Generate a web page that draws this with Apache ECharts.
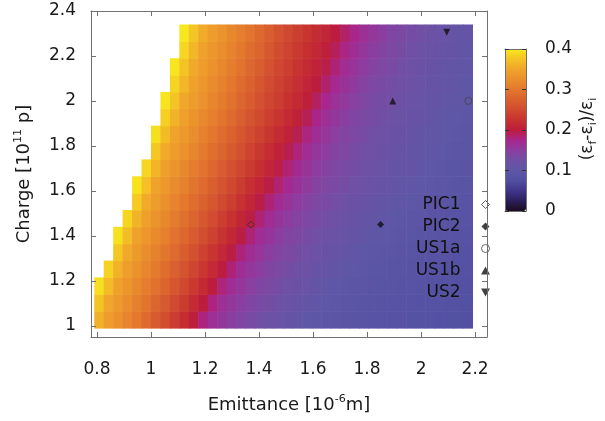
<!DOCTYPE html>
<html>
<head>
<meta charset="utf-8">
<script src="https://cdn.jsdelivr.net/npm/echarts@6.0.0/dist/echarts.min.js"></script>
<style>html,body{margin:0;padding:0;background:#fff;}#c{width:605px;height:421px;}</style>
</head>
<body>
<div id="c"></div>
<script>
// ---- data ----
const emittance = [0.8075,0.8425,0.8775,0.9125,0.9475,0.9825,1.0175,1.0525,1.0875,1.1225,
  1.1575,1.1925,1.2275,1.2625,1.2975,1.3325,1.3675,1.4025,1.4375,1.4725,
  1.5075,1.5425,1.5775,1.6125,1.6475,1.6825,1.7175,1.7525,1.7875,1.8225,
  1.8575,1.8925,1.9275,1.9625,1.9975,2.0325,2.0675,2.1025,2.1375,2.1725];
const charge = [1.0275,1.1025,1.1775,1.2525,1.3275,1.4025,1.4775,1.5525,1.6275,
  1.7025,1.7775,1.8525,1.9275,2.0025,2.0775,2.1525,2.2275,2.3025];
const _ = null;
const growth = [
 [.359,.341,.328,.314,.301,.285,.269,.253,.236,.219,.201,.180,.166,.157,.148,.140,.134,.128,.122,.117,.111,.106,.100,.098,.097,.095,.093,.091,.090,.088,.087,.086,.085,.083,.082,.081,.080,.079,.078,.077],
 [.375,.350,.337,.324,.310,.297,.281,.266,.250,.234,.217,.200,.180,.166,.157,.148,.140,.134,.129,.123,.118,.113,.108,.103,.099,.097,.096,.094,.092,.090,.089,.088,.087,.085,.084,.082,.081,.080,.079,.078],
 [.393,.368,.346,.333,.320,.307,.293,.278,.263,.248,.232,.216,.200,.181,.167,.158,.149,.140,.135,.129,.124,.119,.114,.109,.105,.100,.098,.096,.095,.093,.091,.090,.088,.087,.086,.084,.083,.082,.080,.079],
 [_,.385,.360,.342,.329,.316,.303,.289,.274,.260,.245,.230,.215,.199,.182,.167,.158,.150,.141,.135,.130,.125,.120,.115,.111,.107,.102,.099,.097,.096,.094,.092,.090,.089,.087,.086,.085,.083,.082,.081],
 [_,_,.378,.353,.338,.325,.312,.299,.285,.271,.257,.243,.228,.213,.198,.182,.168,.159,.150,.142,.136,.131,.126,.121,.116,.112,.108,.104,.100,.098,.096,.095,.093,.091,.089,.088,.087,.085,.084,.083],
 [_,_,.395,.370,.347,.334,.322,.309,.296,.282,.268,.254,.241,.226,.212,.198,.183,.168,.160,.151,.142,.136,.131,.127,.122,.117,.114,.110,.106,.102,.099,.097,.095,.094,.092,.090,.089,.087,.086,.085],
 [_,_,_,.387,.362,.343,.331,.318,.305,.292,.279,.265,.252,.239,.225,.211,.198,.183,.169,.160,.152,.143,.137,.132,.128,.123,.118,.115,.111,.107,.103,.100,.098,.096,.095,.093,.091,.089,.088,.087],
 [_,_,_,_,.380,.355,.340,.327,.314,.302,.289,.276,.263,.250,.237,.224,.211,.197,.183,.170,.161,.152,.143,.137,.133,.128,.124,.119,.116,.112,.109,.105,.101,.099,.097,.095,.093,.092,.090,.088],
 [_,_,_,_,.397,.372,.348,.336,.323,.311,.298,.285,.273,.260,.248,.235,.222,.210,.197,.184,.171,.162,.153,.144,.138,.133,.129,.124,.120,.117,.113,.110,.106,.103,.100,.098,.096,.094,.092,.091],
 [_,_,_,_,_,.388,.363,.344,.332,.319,.307,.295,.282,.270,.258,.245,.233,.221,.209,.196,.183,.170,.161,.152,.143,.137,.133,.129,.124,.120,.117,.113,.110,.107,.103,.100,.098,.096,.094,.093],
 [_,_,_,_,_,_,.378,.354,.340,.328,.316,.303,.291,.279,.267,.255,.243,.231,.219,.207,.195,.181,.168,.159,.151,.142,.137,.132,.128,.123,.119,.116,.113,.109,.106,.103,.100,.098,.096,.094],
 [_,_,_,_,_,_,.393,.369,.348,.336,.324,.312,.300,.288,.276,.264,.252,.241,.229,.218,.206,.193,.179,.167,.158,.149,.141,.136,.132,.127,.123,.119,.116,.112,.109,.105,.102,.099,.098,.096],
 [_,_,_,_,_,_,_,.384,.361,.344,.332,.320,.309,.297,.285,.273,.261,.250,.238,.227,.216,.205,.192,.177,.165,.157,.148,.140,.135,.131,.126,.122,.118,.115,.112,.108,.105,.102,.099,.097],
 [_,_,_,_,_,_,_,.397,.375,.352,.340,.328,.316,.305,.293,.281,.270,.258,.246,.236,.225,.214,.203,.189,.174,.164,.155,.146,.139,.134,.130,.126,.121,.118,.114,.111,.108,.104,.101,.099],
 [_,_,_,_,_,_,_,_,.387,.364,.346,.334,.323,.311,.300,.288,.276,.264,.252,.241,.231,.220,.210,.199,.185,.171,.162,.153,.145,.138,.133,.129,.125,.120,.117,.113,.110,.107,.104,.100],
 [_,_,_,_,_,_,_,_,.398,.376,.353,.340,.329,.318,.307,.295,.283,.271,.259,.247,.237,.226,.216,.206,.195,.182,.169,.160,.152,.143,.137,.133,.128,.123,.119,.116,.113,.109,.106,.103],
 [_,_,_,_,_,_,_,_,_,.388,.365,.346,.335,.324,.313,.302,.290,.278,.265,.253,.242,.232,.222,.212,.202,.191,.178,.167,.158,.150,.141,.136,.131,.127,.122,.118,.115,.112,.109,.105],
 [_,_,_,_,_,_,_,_,_,.399,.377,.354,.341,.330,.319,.308,.297,.284,.272,.259,.248,.238,.228,.218,.209,.199,.187,.176,.165,.157,.148,.140,.135,.130,.126,.121,.117,.114,.111,.108]
];
const markerNames = ['PIC1','PIC2','US1a','US1b','US2'];
const markerEmittance = [1.37, 1.85, 2.175, 1.895, 2.095];
const markerCharge = [1.45, 1.45, 2.0, 2.0, 2.305];
const xTicks = [0.8, 1, 1.2, 1.4, 1.6, 1.8, 2, 2.2];
const yTicks = [1, 1.2, 1.4, 1.6, 1.8, 2, 2.2, 2.4];
const cbTicks = [0, 0.1, 0.2, 0.3, 0.4];

// ---- styles ----
const cellW = 0.035, cellH = 0.075;
const FONT = 'DejaVu Sans';
const TXT = '#1a1a1a';
const AX = '#707070';
const palette = ['#1b0c1c','#2c1f5c','#40358a','#5250a2','#5e56a6','#6f50a4','#8c3ea0','#a8268e',
  '#bd1d3c','#c73230','#d04a30','#da612f','#e3772e','#ea8e2d','#f0a52b','#f4c326','#f7e81e'];
const markerStyle = [
  {symbol:'path://M5,0 L10,5 L5,10 L0,5 Z', itemStyle:{color:'rgba(0,0,0,0)', borderColor:'#333', borderWidth:1}},
  {symbol:'path://M5,0 L10,5 L5,10 L0,5 Z', itemStyle:{color:'#111'}},
  {symbol:'circle', itemStyle:{color:'rgba(0,0,0,0)', borderColor:'#444', borderWidth:1}},
  {symbol:'path://M5,0 L10,9 L0,9 Z', itemStyle:{color:'#111'}},
  {symbol:'path://M0,0 L10,0 L5,9 Z', itemStyle:{color:'#111'}}
];

const cells = [];
charge.forEach((c, j) => emittance.forEach((e, i) => {
  const v = growth[j][i];
  if (v !== null) cells.push([e, c, v]);
}));

function renderCell(params, api) {
  const x = api.value(0), y = api.value(1);
  const a = api.coord([x - cellW / 2, y + cellH / 2]);
  const b = api.coord([x + cellW / 2, y - cellH / 2]);
  return {type:'rect', shape:{x:a[0], y:a[1], width:b[0]-a[0]+0.6, height:b[1]-a[1]+0.6},
          style:{fill: api.visual('color')}};
}

const lbl = {fontFamily:FONT, fontSize:17, color:TXT};
function mainX(pos, show) {
  return {gridIndex:0, type:'value', min:0.778, max:2.244, position:pos, z:5,
    axisLine:{show:true, onZero:false, lineStyle:{color:AX, width:1}},
    axisTick:{show:true, inside:true, length:5, customValues:xTicks, lineStyle:{color:AX}},
    axisLabel:Object.assign({show:show, customValues:xTicks, margin:24}, lbl),
    splitLine:{show:false}};
}
function mainY(pos, show) {
  return {gridIndex:0, type:'value', min:0.95, max:2.4, position:pos, z:5,
    axisLine:{show:true, onZero:false, lineStyle:{color:AX, width:1}},
    axisTick:{show:true, inside:true, length:5, customValues:yTicks, lineStyle:{color:AX}},
    axisLabel:Object.assign({show:show, customValues:yTicks, margin:15}, lbl),
    splitLine:{show:false}};
}
function cbX(pos) {
  return {gridIndex:1, type:'value', min:0, max:1, position:pos, z:10,
    axisLine:{show:true, onZero:false, lineStyle:{color:AX, width:1}},
    axisTick:{show:false}, axisLabel:{show:false}, splitLine:{show:false}};
}
function cbY(pos, show) {
  return {gridIndex:1, type:'value', min:0, max:0.4, interval:0.1, position:pos, z:10,
    axisLine:{show:true, onZero:false, lineStyle:{color:AX, width:1}},
    axisTick:{show:true, inside:true, length:4, customValues:cbTicks, lineStyle:{color:'#333'}},
    axisLabel:Object.assign({show:show, customValues:cbTicks, margin:19}, lbl),
    splitLine:{show:false}};
}

const series = [{
  type:'custom', renderItem:renderCell, data:cells, encode:{x:0, y:1},
  xAxisIndex:0, yAxisIndex:0, clip:true, silent:true, z:1
}];
markerNames.forEach((n, k) => {
  series.push(Object.assign({
    name:n, type:'scatter', xAxisIndex:0, yAxisIndex:0, symbolSize:7, z:6, silent:true,
    data:[[markerEmittance[k], markerCharge[k]]]
  }, markerStyle[k]));
});

const titleStyle = {fontFamily:FONT, fontSize:18, fill:TXT, textAlign:'center', textVerticalAlign:'middle', lineHeight:22};
const supStyle = {fontFamily:FONT, fontSize:11, lineHeight:11, verticalAlign:'top', fill:TXT};
const subStyle = {fontFamily:FONT, fontSize:11, lineHeight:11, verticalAlign:'bottom', fill:TXT};

const chart = echarts.init(document.getElementById('c'), null, {renderer:'canvas'});
chart.setOption({
  animation:false,
  backgroundColor:'#fff',
  grid:[{left:91, top:11, width:396, height:326}, {left:505, top:49, width:21, height:162}],
  xAxis:[mainX('bottom', true), mainX('top', false), cbX('bottom'), cbX('top')],
  yAxis:[mainY('left', true), mainY('right', false), cbY('right', true), cbY('left', false)],
  visualMap:{type:'continuous', min:0, max:0.4, dimension:2, seriesIndex:0, calculable:false,
    orient:'vertical', left:505, top:49, itemWidth:21, itemHeight:162, padding:0, text:null,
    hoverLink:false, inRange:{color:palette}},
  legend:{orient:'vertical', align:'right', right:115, top:196, padding:0, itemWidth:40, itemHeight:8,
    itemGap:5, selectedMode:false, data:markerNames, itemStyle:{borderWidth:1},
    textStyle:{fontFamily:FONT, fontSize:17, color:'#111'}},
  graphic:[
    {type:'text', x:289, y:405, style:Object.assign({text:'Emittance [10{sup|-6}m]', rich:{sup:supStyle}}, titleStyle)},
    {type:'text', x:24, y:174, rotation:Math.PI/2, style:Object.assign({text:'Charge [10{sup|11} p]', rich:{sup:supStyle}}, titleStyle)},
    {type:'text', x:588, y:129, rotation:Math.PI/2, style:Object.assign({text:'(ε{sub|f}-ε{sub|i})/ε{sub|i}', rich:{sub:subStyle}}, titleStyle, {fontSize:17})}
  ],
  series:series
});
</script>
</body>
</html>
